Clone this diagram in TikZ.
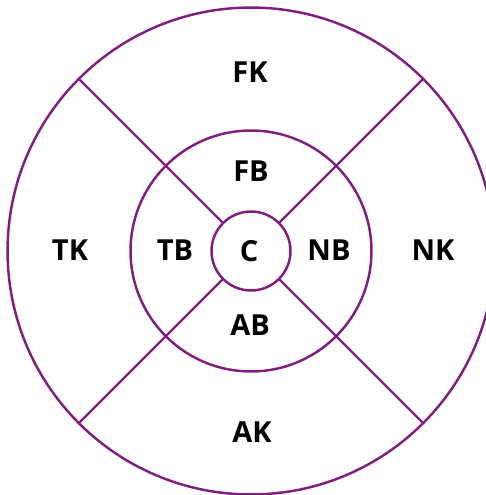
\documentclass[tikz,border=0pt]{standalone}
\usepackage{fontspec}
\setmainfont{Open Sans}
\definecolor{ringpurple}{RGB}{128,30,128}
\begin{document}
\begin{tikzpicture}[x=0.02cm,y=0.02cm,
  ring/.style={circle,draw=ringpurple,line width=1.4pt,inner sep=0pt,outer sep=0pt},
  spoke/.style={draw=ringpurple,line width=1.4pt},
  zone/.style={font=\fontsize{16.5}{19}\selectfont\bfseries,text=black}]
\useasboundingbox (0,0) rectangle (486,495);
\clip (0,0) rectangle (486,495);
\coordinate (mid) at (251,244);
\node[ring,minimum size=9.74cm] (outer) at (mid) {};
\node[ring,minimum size=4.82cm] (middle) at (mid) {};
\node[ring,minimum size=1.58cm] (inner) at (mid) {};
\foreach \a in {45,135,225,315}
  \draw[spoke] (inner.\a) -- (outer.\a);
\node[zone] (FK) at (250,423) {FK};
\node[zone] (FB) at (251,324) {FB};
\node[zone] (TK) at (70,245) {TK};
\node[zone] (TB) at (175,245) {TB};
\node[zone] (C) at (249,244) {C};
\node[zone] (NB) at (329,245) {NB};
\node[zone] (NK) at (433,245) {NK};
\node[zone] (AB) at (250,170) {AB};
\node[zone] (AK) at (252,63) {AK};
\end{tikzpicture}
\end{document}
